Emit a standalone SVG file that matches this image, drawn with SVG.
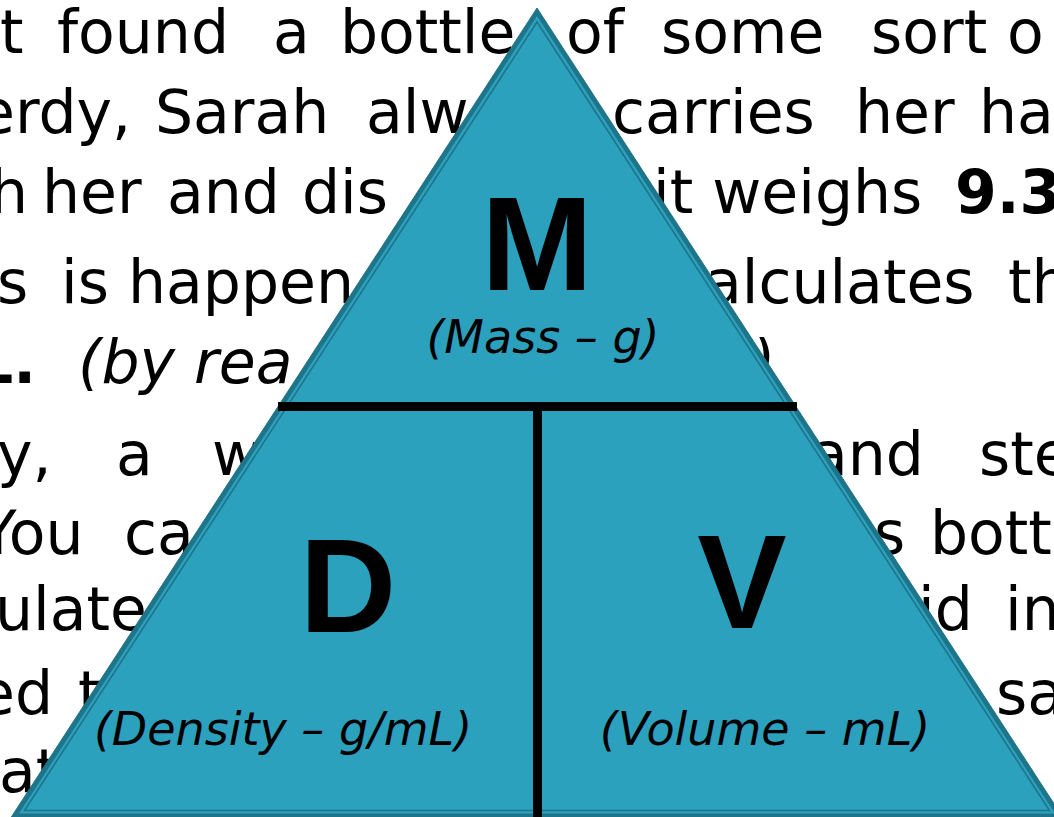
<svg xmlns="http://www.w3.org/2000/svg" width="1054" height="817" viewBox="0 0 1054 817">
<style>
.bg{font-family:"DejaVu Sans","Liberation Sans",sans-serif;font-size:60px;fill:#000}
.b{font-weight:bold}
.i{font-style:italic}
.big{font-family:"Liberation Sans",Arial,sans-serif;font-weight:bold;font-size:134px;fill:#000;text-anchor:middle}
.lbl{font-family:"DejaVu Sans","Liberation Sans",sans-serif;font-style:italic;font-size:46px;fill:#000;text-anchor:middle}
.line{fill:#000}
</style>
<rect width="1054" height="817" fill="#fff"/>
<g id="background-text" class="bg">
<text y="53"><tspan x="0">t</tspan><tspan x="57">found</tspan><tspan x="273">a</tspan><tspan x="340">bottle</tspan><tspan x="566">of</tspan><tspan x="661">some</tspan><tspan x="871">sort</tspan><tspan x="1007">o</tspan></text>
<text y="133"><tspan x="-22">erdy,</tspan><tspan x="155">Sarah</tspan><tspan x="366">alw</tspan><tspan x="612">carries</tspan><tspan x="855">her</tspan><tspan x="979">ha</tspan></text>
<text y="213"><tspan x="-10">h</tspan><tspan x="42">her</tspan><tspan x="167">and</tspan><tspan x="302">dis</tspan><tspan x="653">it weighs</tspan><tspan x="955" class="b">9.3</tspan></text>
<text y="303"><tspan x="-3">s</tspan><tspan x="61">is</tspan><tspan x="128">happen</tspan><tspan x="705">alculates</tspan><tspan x="1008">th</tspan></text>
<text y="383"><tspan x="-25" class="b">L.</tspan><tspan x="78" class="i">(by rea</tspan><tspan x="752" class="i">)</tspan></text>
<text y="475"><tspan x="-3">y,</tspan><tspan x="116">a</tspan><tspan x="212">w</tspan><tspan x="811">and</tspan><tspan x="979">ste</tspan></text>
<text y="554"><tspan x="-20">You</tspan><tspan x="124">ca</tspan><tspan x="874">s</tspan><tspan x="930">bott</tspan></text>
<text y="630"><tspan x="-5">ulate</tspan><tspan x="918">id</tspan><tspan x="1005">in</tspan></text>
<text y="714"><tspan x="-22">ed</tspan><tspan x="78">t</tspan><tspan x="996">sa</tspan></text>
<text y="792"><tspan x="-1">at</tspan></text>
</g>
<g id="triangle">
<polygon points="537,8 11,817.5 1063,817.5" fill="#1e7489" stroke="#1e7489" stroke-width="1" stroke-linejoin="round"/>
<polygon points="537,16 19,813.5 1055,813.5" fill="#2ca1be"/>
<polygon points="537,22 24.5,810.5 1049.5,810.5" fill="none" stroke="#1e7489" stroke-width="1.6"/>
</g>
<g id="dividers">
<rect class="line" x="278" y="402" width="519" height="9"/>
<rect class="line" x="533" y="406" width="9" height="411"/>
</g>
<g id="node-M">
<text class="big" x="537" y="290">M</text>
<text class="lbl" x="543" y="353">(Mass – g)</text>
</g>
<g id="node-D">
<text class="big" x="348" y="632">D</text>
<text class="lbl" x="283" y="745">(Density – g/mL)</text>
</g>
<g id="node-V">
<text class="big" x="742" y="628">V</text>
<text class="lbl" x="765" y="745">(Volume – mL)</text>
</g>
</svg>
